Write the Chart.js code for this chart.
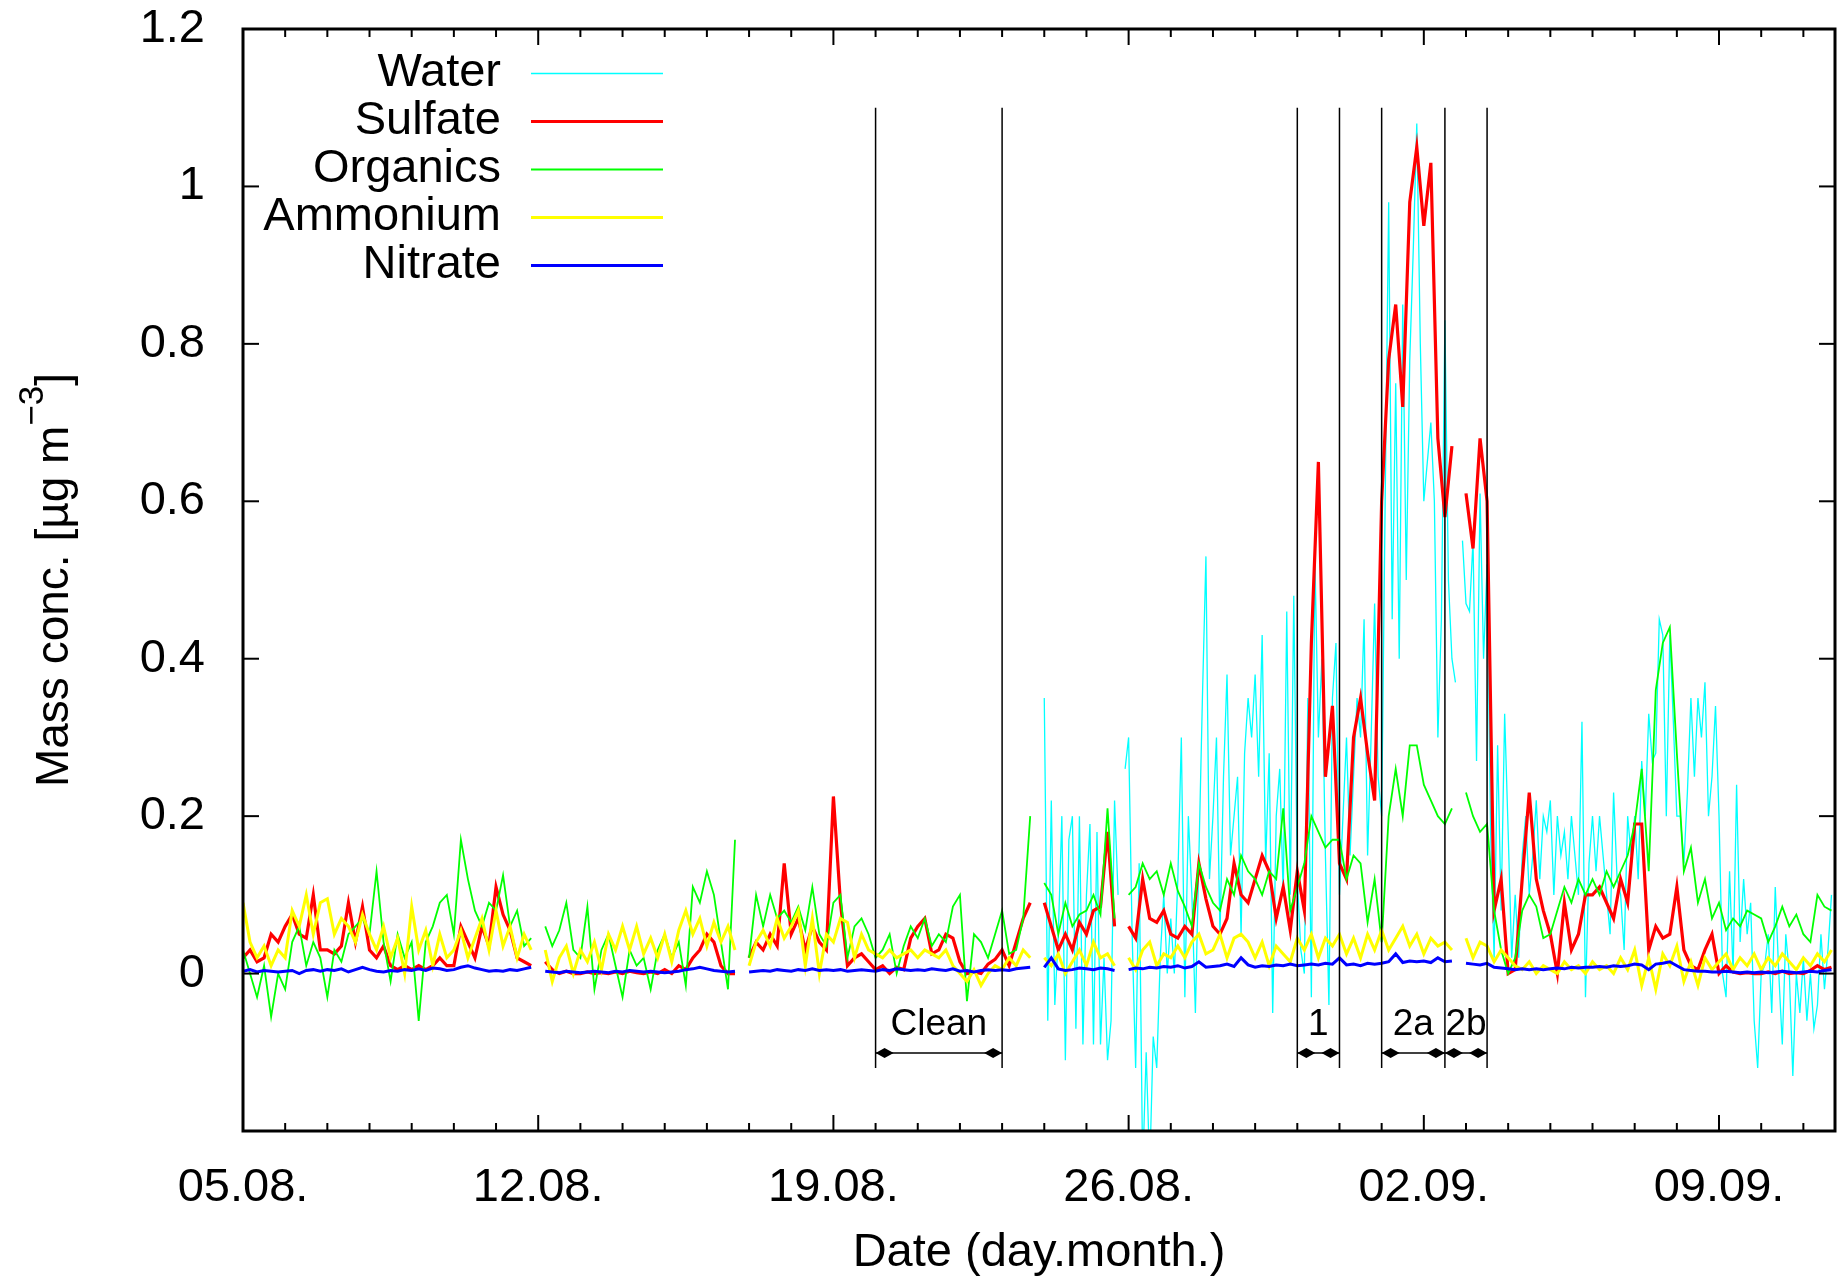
<!DOCTYPE html>
<html>
<head>
<meta charset="utf-8">
<title>Mass concentration</title>
<script src="https://cdn.jsdelivr.net/npm/chart.js@4.4.1/dist/chart.umd.min.js"></script>
<style>
  html, body { margin: 0; padding: 0; background: #fff; }
  canvas { display: block; }
</style>
</head>
<body>
<canvas id="massChart" width="1837" height="1281"></canvas>
<script>
const seriesNames = ['Water', 'Sulfate', 'Organics', 'Ammonium', 'Nitrate'];
const seriesColors = ['#00ffff', '#ff0000', '#00ff00', '#ffff00', '#0000ff'];
const seriesWidths = [1.3, 3.2, 1.8, 3, 3];

// x is days after 05.08. 00:00
const dateLabels = ['05.08.', '12.08.', '19.08.', '26.08.', '02.09.', '09.09.'];
const dayMax = 37.75;
const yTicks = [-0.2, 0, 0.2, 0.4, 0.6, 0.8, 1, 1.2];

// 4 hour values from day 0, one row per day
const sulfate = [
  0.02, 0.03, 0.015, 0.02, 0.05, 0.04,
  0.06, 0.075, 0.05, 0.045, 0.10, 0.03,
  0.03, 0.025, 0.035, 0.09, 0.04, 0.085,
  0.03, 0.02, 0.035, 0.01, 0.005, 0.01,
  0.005, 0.01, 0.005, 0.01, 0.02, 0.01,
  0.01, 0.06, 0.04, 0.02, 0.06, 0.035,
  0.11, 0.075, 0.055, 0.02, 0.015, 0.01,
  null, 0.015, 0.005, 0.0, 0.003, 0.0,
  0.0, 0.002, 0.0, 0.001, 0.0, 0.002,
  0.0, 0.003, 0.001, 0.0, 0.002, 0.0,
  0.005, 0.0, 0.01, 0.005, 0.02, 0.03,
  0.05, 0.04, 0.01, 0.0, 0.0, null,
  0.02, 0.04, 0.03, 0.05, 0.035, 0.14,
  0.05, 0.07, 0.03, 0.06, 0.04, 0.03,
  0.225, 0.09, 0.01, 0.02, 0.025, 0.015,
  0.005, 0.01, 0.0, 0.008, 0.005, 0.045,
  0.06, 0.07, 0.025, 0.03, 0.05, 0.045,
  0.015, 0.0, 0.002, 0.0, 0.012, 0.018,
  0.03, 0.01, 0.04, 0.07, 0.09, null,
  0.09, 0.06, 0.03, 0.05, 0.03, 0.065,
  0.05, 0.08, 0.085, 0.18, 0.06, null,
  0.06, 0.045, 0.12, 0.07, 0.065, 0.08,
  0.05, 0.045, 0.06, 0.05, 0.14, 0.095,
  0.06, 0.05, 0.07, 0.14, 0.1, 0.09,
  0.12, 0.15, 0.13, 0.07, 0.11, 0.055,
  0.13, 0.08, 0.42, 0.65, 0.25, 0.34,
  0.14, 0.12, 0.3, 0.35, 0.28, 0.22,
  0.6, 0.78, 0.85, 0.72, 0.98, 1.05,
  0.95, 1.03, 0.68, 0.58, 0.67, null,
  0.61, 0.54, 0.68, 0.6, 0.08, 0.12,
  0.0, 0.005, 0.12, 0.23, 0.12, 0.08,
  0.05, 0.0, 0.09, 0.03, 0.05, 0.1,
  0.1, 0.11, 0.09, 0.07, 0.12, 0.09,
  0.19, 0.19, 0.03, 0.06, 0.045, 0.05,
  0.11, 0.03, 0.01, 0.005, 0.03, 0.05,
  0.0, 0.01, 0.002, 0.0, 0.001, 0.0,
  0.0, 0.002, 0.0, 0.003, 0.0, 0.001,
  0.0, 0.004, 0.01, 0.005, 0.008
];

const organics = [
  0.03, 0.0, -0.03, 0.01, -0.055, 0.0,
  -0.02, 0.04, 0.06, 0.01, 0.04, 0.02,
  -0.03, 0.03, 0.015, 0.05, 0.06, 0.07,
  0.05, 0.13, 0.04, -0.01, 0.05, 0.02,
  0.04, -0.06, 0.04, 0.06, 0.09, 0.1,
  0.05, 0.17, 0.12, 0.08, 0.06, 0.09,
  0.08, 0.125, 0.06, 0.08, 0.035, 0.045,
  null, 0.06, 0.035, 0.055, 0.09, 0.03,
  0.02, 0.085, -0.02, 0.03, 0.05, 0.01,
  -0.03, 0.03, 0.01, 0.02, -0.02, 0.03,
  0.05, 0.02, 0.04, -0.015, 0.11, 0.09,
  0.13, 0.1, 0.04, -0.02, 0.17, null,
  0.02, 0.1, 0.06, 0.1, 0.07, 0.08,
  0.065, 0.085, 0.055, 0.11, 0.05, 0.035,
  0.09, 0.1, 0.02, 0.06, 0.07, 0.05,
  0.02, 0.03, 0.05, 0.0, 0.035, 0.06,
  0.045, 0.07, 0.035, 0.05, 0.04, 0.085,
  0.1, -0.035, 0.05, 0.04, 0.02, 0.05,
  0.08, 0.025, 0.03, 0.07, 0.2, null,
  0.115, 0.1, 0.05, 0.09, 0.06, 0.075,
  0.08, 0.1, 0.075, 0.21, 0.07, null,
  0.1, 0.11, 0.14, 0.12, 0.13, 0.1,
  0.14, 0.105, 0.085, 0.06, 0.14, 0.11,
  0.09, 0.08, 0.12, 0.1, 0.15, 0.13,
  0.12, 0.1, 0.13, 0.12, 0.21, 0.08,
  0.11, 0.14, 0.2, 0.18, 0.16, 0.17,
  0.17, 0.12, 0.15, 0.14, 0.065, 0.12,
  0.04, 0.2, 0.26, 0.2, 0.29, 0.29,
  0.24, 0.22, 0.2, 0.19, 0.21, null,
  0.23, 0.2, 0.18, 0.19, 0.08, 0.03,
  0.0, 0.02, 0.08, 0.1, 0.085, 0.045,
  0.05, 0.08, 0.11, 0.09, 0.12, 0.1,
  0.12, 0.1, 0.13, 0.11, 0.13, 0.15,
  0.19, 0.26, 0.13, 0.36, 0.42, 0.44,
  0.28, 0.13, 0.16, 0.09, 0.12, 0.07,
  0.09, 0.055, 0.07, 0.06, 0.08, 0.075,
  0.07, 0.04, 0.06, 0.085, 0.06, 0.075,
  0.05, 0.04, 0.1, 0.085, 0.08
];

const ammonium = [
  0.09, 0.04, 0.02, 0.035, 0.01, 0.03,
  0.02, 0.08, 0.06, 0.1, 0.05, 0.09,
  0.095, 0.05, 0.07, 0.06, 0.04, 0.075,
  0.05, 0.03, 0.06, 0.02, 0.045, 0.0,
  0.085, 0.03, 0.055, 0.01, 0.05, 0.02,
  0.03, 0.055, 0.02, 0.045, 0.07, 0.03,
  0.08, 0.035, 0.06, 0.02, 0.05, 0.03,
  null, 0.03, -0.01, 0.02, 0.035, 0.0,
  0.03, 0.015, 0.04, 0.005, 0.05, 0.03,
  0.06, 0.03, 0.06, 0.025, 0.045, 0.02,
  0.05, 0.015, 0.055, 0.08, 0.05, 0.07,
  0.035, 0.065, 0.04, 0.06, 0.03, null,
  0.01, 0.04, 0.055, 0.035, 0.07, 0.045,
  0.06, 0.08, 0.01, 0.07, 0.0, 0.05,
  0.04, 0.07, 0.065, 0.02, 0.05, 0.03,
  0.025, 0.02, 0.03, 0.02, 0.025, 0.03,
  0.02, 0.03, 0.025, 0.02, 0.03, 0.01,
  0.0, -0.01, 0.005, -0.015, 0.0, 0.01,
  0.005, 0.02, 0.01, 0.03, 0.02, null,
  0.02, 0.01, 0.025, 0.0, 0.015, 0.03,
  0.01, 0.04, 0.02, 0.025, 0.01, null,
  0.02, 0.005, 0.03, 0.04, 0.01, 0.025,
  0.02, 0.035, 0.02, 0.04, 0.05, 0.025,
  0.03, 0.05, 0.02, 0.045, 0.05, 0.04,
  0.02, 0.04, 0.01, 0.035, 0.025, 0.015,
  0.045, 0.03, 0.05, 0.02, 0.045, 0.035,
  0.05, 0.025, 0.045, 0.02, 0.05, 0.03,
  0.055, 0.03, 0.045, 0.06, 0.035, 0.05,
  0.025, 0.045, 0.035, 0.04, 0.03, null,
  0.045, 0.02, 0.04, 0.035, 0.015, 0.03,
  0.02, 0.01, 0.005, 0.015, 0.0, 0.01,
  0.005, 0.0, 0.015, 0.005, 0.01, 0.0,
  0.015, 0.005, 0.01, 0.0, 0.02, 0.005,
  0.03, -0.015, 0.02, -0.02, 0.025, 0.01,
  0.035, -0.01, 0.015, -0.015, 0.02, 0.005,
  0.015, 0.025, 0.005, 0.02, 0.01, 0.025,
  0.005, 0.02, 0.01, 0.025, 0.015, 0.005,
  0.02, 0.01, 0.025, 0.015, 0.03
];

const nitrate = [
  0.003, 0.005, 0.002, 0.004, 0.003, 0.002,
  0.003, 0.004, 0.0, 0.004, 0.005, 0.003,
  0.005, 0.004, 0.006, 0.002, 0.005, 0.008,
  0.005, 0.003, 0.002, 0.004, 0.003, 0.005,
  0.004, 0.006, 0.004, 0.007, 0.006, 0.004,
  0.005, 0.008, 0.01, 0.007, 0.005, 0.003,
  0.004, 0.003, 0.005, 0.004, 0.006, 0.008,
  null, 0.003, 0.002, 0.001, 0.003, 0.002,
  0.001, 0.002, 0.003, 0.002, 0.001, 0.003,
  0.002, 0.004, 0.003, 0.002, 0.003, 0.002,
  0.001, 0.002, 0.003, 0.005, 0.006, 0.008,
  0.006, 0.004, 0.003, 0.002, 0.003, null,
  0.002, 0.003, 0.004, 0.003, 0.005, 0.004,
  0.003, 0.005, 0.004, 0.006, 0.004, 0.005,
  0.004, 0.005, 0.003, 0.004, 0.005, 0.004,
  0.003, 0.005, 0.004, 0.006, 0.005, 0.004,
  0.005, 0.004, 0.006, 0.005, 0.004, 0.006,
  0.003, 0.004, 0.002, 0.004, 0.005, 0.004,
  0.005, 0.004, 0.006, 0.007, 0.008, null,
  0.008, 0.02, 0.006, 0.004, 0.005, 0.007,
  0.006, 0.005, 0.007, 0.006, 0.004, null,
  0.005, 0.007, 0.006, 0.008, 0.007, 0.009,
  0.008, 0.01, 0.007, 0.009, 0.015, 0.008,
  0.009, 0.01, 0.012, 0.009, 0.02, 0.011,
  0.008, 0.01, 0.009, 0.011, 0.01, 0.012,
  0.01, 0.011, 0.012, 0.011, 0.013, 0.012,
  0.02, 0.011, 0.012, 0.01, 0.013, 0.012,
  0.013, 0.015, 0.025, 0.014, 0.016, 0.015,
  0.016, 0.014, 0.02, 0.015, 0.016, null,
  0.013, 0.012, 0.011, 0.013, 0.008, 0.007,
  0.006, 0.005, 0.006, 0.005, 0.006, 0.005,
  0.006, 0.007, 0.006, 0.008, 0.007, 0.008,
  0.008, 0.009, 0.008, 0.01, 0.009, 0.01,
  0.012, 0.011, 0.005, 0.012, 0.013, 0.015,
  0.01, 0.005, 0.004, 0.003, 0.003, 0.002,
  0.002, 0.003, 0.002, 0.001, 0.002, 0.001,
  0.002, 0.001, 0.002, 0.003, 0.002, 0.001,
  0.002, 0.003, 0.002, 0.004, 0.005
];

// water: 2 hour values from day 19, one row per day
const water = [
  0.35, -0.06, 0.22, -0.04, 0.05, 0.2, -0.11, 0.17, 0.2, -0.07, 0.2, -0.09,
  0.1, 0.19, -0.09, 0.18, -0.09, 0.02, -0.11, -0.06, 0.22, 0.1, null, 0.26,
  0.3, 0.05, -0.12, 0.14, -0.25, -0.1, -0.25, -0.08, -0.12, 0.02, 0.1, 0.0,
  0.07, 0.0, 0.12, 0.3, -0.03, 0.2, 0.1, -0.05, 0.15, 0.35, 0.53, 0.12,
  0.2, 0.3, 0.05, 0.25, 0.38, 0.15, 0.2, 0.25, 0.05, 0.28, 0.35, 0.3,
  0.38, 0.25, 0.43, 0.14, 0.28, -0.05, 0.2, 0.26, 0.1, 0.46, 0.1, 0.48,
  0.12, 0.03, 0.0, 0.35, -0.03, 0.53, 0.3, 0.4, 0.15, -0.04, 0.35, 0.42,
  0.1, 0.2, 0.3, 0.15, 0.25, 0.35, 0.3, 0.45, 0.15, 0.3, 0.47, 0.25,
  0.2, 0.6, 0.98, 0.45, 0.75, 0.4, 0.85, 0.5, 0.78, 0.92, 1.08, 0.8,
  0.6, 0.65, 0.7, 0.6, 0.3, 0.45, 0.83, 0.5, 0.4, 0.37, null, 0.55,
  0.47, 0.46, 0.55, 0.27, 0.61, 0.4, 0.52, 0.18, 0.02, 0.29, 0.08, 0.33,
  0.18, 0.02, 0.1, 0.02, 0.15, 0.2, 0.1, 0.15, 0.22, 0.12, 0.2, 0.18,
  0.22, 0.1, 0.2, 0.15, 0.18, 0.12, 0.2, 0.15, 0.1, 0.32, -0.03, 0.14,
  0.2, 0.13, 0.2, 0.15, 0.1, 0.05, 0.23, 0.12, 0.1, 0.03, 0.2, 0.15,
  0.2, 0.12, 0.27, 0.2, 0.33, 0.27, 0.28, 0.45, 0.43, 0.2, 0.43, 0.32,
  0.2, 0.2, 0.14, 0.23, 0.35, 0.25, 0.35, 0.3, 0.37, 0.2, 0.25, 0.34,
  0.2, 0.0, -0.03, 0.13, 0.0, 0.24, 0.04, 0.12, 0.05, 0.09, -0.06, -0.12,
  0.0, 0.01, 0.05, -0.05, 0.11, 0.0, -0.09, 0.05, 0.0, -0.13, 0.0, -0.05,
  0.02, -0.06, 0.0, -0.07, -0.04, 0.05, -0.02, 0.03, 0.1
];

// marked periods (days) and their labels
const periodBounds = [15, 18, 25, 26, 27, 28.5, 29.5];
const periodNames = ['Clean', '1', '2a', '2b'];
const periodStart = [15, 25, 27, 28.5];
const periodEnd = [18, 26, 28.5, 29.5];
const periodTop = 1.1;
const periodBottom = -0.12;
const arrowLevel = -0.101;
const labelLevel = -0.078;

const fontFamily = '"Liberation Sans", Arial, Helvetica, sans-serif';
Chart.defaults.font.family = fontFamily;
Chart.defaults.color = '#000';

function toPoints(values, start, step) {
  return values.map((v, i) => ({ x: start + i * step, y: v }));
}

const seriesData = [
  toPoints(water, 19, 1 / 12),
  toPoints(sulfate, 0, 1 / 6),
  toPoints(organics, 0, 1 / 6),
  toPoints(ammonium, 0, 1 / 6),
  toPoints(nitrate, 0, 1 / 6)
];

const datasets = seriesNames.map((name, i) => ({
  label: name,
  data: seriesData[i],
  borderColor: seriesColors[i],
  borderWidth: seriesWidths[i],
  pointRadius: 0,
  tension: 0,
  fill: false,
  spanGaps: false,
  order: seriesNames.length - i
}));

function diamondHead(ctx, x, y, dir) {
  ctx.beginPath();
  ctx.moveTo(x, y);
  ctx.lineTo(x + dir * 9, y - 5);
  ctx.lineTo(x + dir * 18, y);
  ctx.lineTo(x + dir * 9, y + 5);
  ctx.closePath();
  ctx.fill();
}

function seg(ctx, x0, y0, x1, y1) {
  ctx.beginPath();
  ctx.moveTo(x0, y0);
  ctx.lineTo(x1, y1);
  ctx.stroke();
}

const decorations = {
  id: 'decorations',
  afterDatasetsDraw(chart) {
    const { ctx, chartArea: area, scales } = chart;
    const xs = scales.x;
    const ys = scales.y;
    ctx.save();
    ctx.strokeStyle = '#000';
    ctx.fillStyle = '#000';

    // period lines, arrows and labels
    ctx.lineWidth = 1.5;
    periodBounds.forEach(d => {
      const px = xs.getPixelForValue(d);
      seg(ctx, px, ys.getPixelForValue(periodTop), px, ys.getPixelForValue(periodBottom));
    });
    const arrowY = ys.getPixelForValue(arrowLevel);
    const labelY = ys.getPixelForValue(labelLevel);
    ctx.font = '37px ' + fontFamily;
    ctx.textAlign = 'center';
    ctx.textBaseline = 'alphabetic';
    periodNames.forEach((name, i) => {
      const x0 = xs.getPixelForValue(periodStart[i]);
      const x1 = xs.getPixelForValue(periodEnd[i]);
      seg(ctx, x0, arrowY, x1, arrowY);
      diamondHead(ctx, x0, arrowY, 1);
      diamondHead(ctx, x1, arrowY, -1);
      ctx.fillText(name, (x0 + x1) / 2, labelY);
    });

    // inward tick marks on all four sides
    ctx.lineWidth = 2;
    for (let d = 0; d <= Math.floor(dayMax); d++) {
      const px = xs.getPixelForValue(d);
      const len = d % 7 === 0 ? 16 : 8;
      seg(ctx, px, area.bottom, px, area.bottom - len);
      seg(ctx, px, area.top, px, area.top + len);
    }
    yTicks.forEach(v => {
      const py = ys.getPixelForValue(v);
      seg(ctx, area.left, py, area.left + 16, py);
      seg(ctx, area.right, py, area.right - 16, py);
    });

    ctx.lineWidth = 3;
    ctx.strokeRect(area.left, area.top, area.right - area.left, area.bottom - area.top);

    // key
    ctx.font = '47px ' + fontFamily;
    ctx.textAlign = 'right';
    ctx.textBaseline = 'middle';
    seriesNames.forEach((name, i) => {
      const rowY = area.top + 44.5 + i * 48;
      ctx.fillStyle = '#000';
      ctx.fillText(name, area.left + 258, rowY);
      ctx.strokeStyle = seriesColors[i];
      ctx.lineWidth = seriesWidths[i];
      seg(ctx, area.left + 288, rowY, area.left + 420, rowY);
    });

    // y axis title with superscript
    const main = 'Mass conc. [\u00b5g m';
    const sup = '\u22123';
    const close = ']';
    ctx.fillStyle = '#000';
    ctx.textAlign = 'left';
    ctx.textBaseline = 'alphabetic';
    ctx.font = '46px ' + fontFamily;
    const w1 = ctx.measureText(main).width;
    const w3 = ctx.measureText(close).width;
    ctx.font = '35px ' + fontFamily;
    const w2 = ctx.measureText(sup).width;
    ctx.translate(68, (area.top + area.bottom) / 2);
    ctx.rotate(-Math.PI / 2);
    let tx = -(w1 + w2 + w3) / 2;
    ctx.font = '46px ' + fontFamily;
    ctx.fillText(main, tx, 0);
    tx += w1;
    ctx.font = '35px ' + fontFamily;
    ctx.fillText(sup, tx, -25);
    tx += w2;
    ctx.font = '46px ' + fontFamily;
    ctx.fillText(close, tx, 0);

    ctx.restore();
  }
};

new Chart(document.getElementById('massChart'), {
  type: 'line',
  data: { datasets: datasets },
  options: {
    responsive: false,
    animation: false,
    devicePixelRatio: 1,
    layout: { padding: { top: 29, right: 2, left: 0, bottom: 0 } },
    plugins: {
      legend: { display: false },
      tooltip: { enabled: false }
    },
    scales: {
      x: {
        type: 'linear',
        min: 0,
        max: dayMax,
        grid: { display: false },
        border: { display: false },
        ticks: {
          stepSize: 1,
          autoSkip: false,
          maxRotation: 0,
          padding: 21,
          font: { size: 47 },
          color: '#000',
          callback: v => (v % 7 === 0 ? dateLabels[v / 7] : '')
        },
        title: {
          display: true,
          text: 'Date (day.month.)',
          font: { size: 47 },
          color: '#000',
          padding: { top: 0, bottom: 0 }
        },
        afterFit: s => {
          s.height = 150;
          s.paddingLeft = 0;
          s.paddingRight = 0;
        }
      },
      y: {
        min: -0.2,
        max: 1.2,
        grid: { display: false },
        border: { display: false },
        ticks: {
          stepSize: 0.2,
          padding: 30,
          font: { size: 47 },
          color: '#000',
          callback: v => (v < -0.1 ? '' : String(Math.round(v * 10) / 10))
        },
        afterFit: s => {
          s.width = 243;
          s.paddingTop = 0;
          s.paddingBottom = 0;
        }
      }
    }
  },
  plugins: [decorations]
});
</script>
</body>
</html>
